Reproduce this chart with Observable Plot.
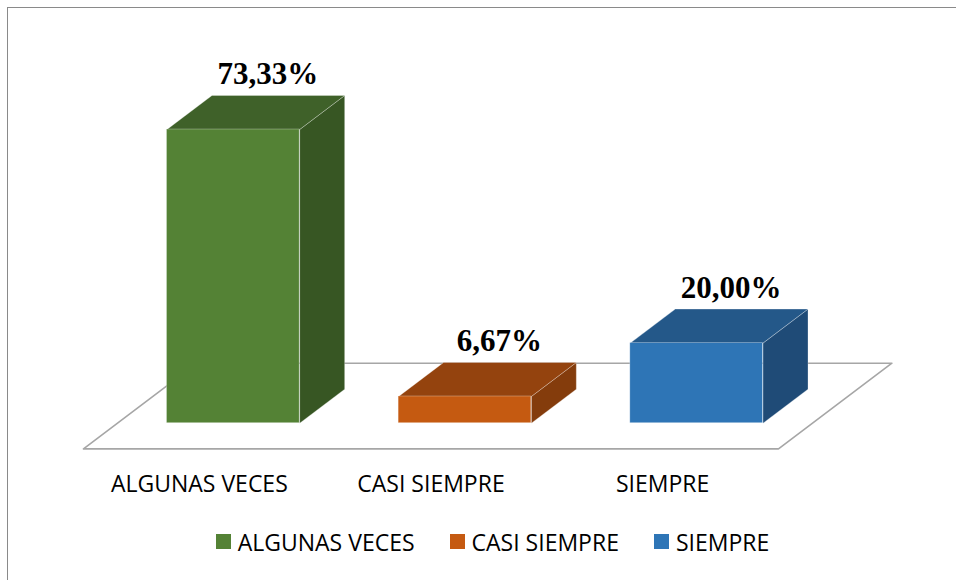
<!DOCTYPE html>
<html>
<head>
<meta charset="utf-8">
<script src="https://cdn.jsdelivr.net/npm/d3@7"></script>
<script src="https://cdn.jsdelivr.net/npm/@observablehq/plot@0.6"></script>
<style>
  html, body { margin: 0; padding: 0; background: #fff; overflow: hidden; }
  #wrap { position: relative; width: 956px; height: 580px; }
  #frame { position: absolute; left: 7px; top: 7px; width: 980px; height: 600px;
           border: 1.4px solid #8a8a8a; box-sizing: border-box; pointer-events: none; }
  #legend { margin-top: -2px; }
  #legend .lg-swatches-wrap { display: flex; align-items: center; justify-content: center; padding-left: 29px; box-sizing: border-box; width: 956px; margin: 0; }
  #legend .lg-swatch { display: inline-flex; align-items: center; margin-right: 35px; }
  #legend .lg-swatch:last-child { margin-right: 0; }
  #legend .lg-swatch > svg { margin-right: 7px; }
</style>
</head>
<body>
<div id="wrap">
  <div id="chart"></div>
  <div id="legend"></div>
  <div id="frame"></div>
</div>
<script>
// ---- data ----
const categories = ["ALGUNAS VECES", "CASI SIEMPRE", "SIEMPRE"];
const values = [73.33, 6.67, 20.00];
const frontColors = ["#548235", "#C55A11", "#2E75B6"];
const topColors = ["#3F6129", "#94430E", "#245889"];
const sideColors = ["#375623", "#843C0C", "#1F4B77"];

// ---- 3D geometry (in data units) ----
const hw = 0.2864;   // half bar width, category units
const dX = 0.1942;   // depth shift along x per bar depth
const dY = 8.49;     // depth shift along y per bar depth
const fFront = -0.756, fBack = 1.765; // floor extent in bar depths

const fmt = v => v.toFixed(2).replace(".", ",") + "%";

const bars = categories.map((c, i) => ({
  i, c, v: values[i], label: fmt(values[i]),
  front: frontColors[i], top: topColors[i], side: sideColors[i]
}));

const facePts = [];
bars.forEach(b => {
  const x0 = b.i - hw, x1 = b.i + hw, v = b.v;
  const side = [[x1, 0], [x1 + dX, dY], [x1 + dX, v + dY], [x1, v], [x1, 0]];
  const top = [[x0, v], [x1, v], [x1 + dX, v + dY], [x0 + dX, v + dY], [x0, v]];
  side.forEach(([x, y]) => facePts.push({id: b.c + "-side", fill: b.side, x, y}));
  top.forEach(([x, y]) => facePts.push({id: b.c + "-top", fill: b.top, x, y}));
});

const xmin = -0.5, xmax = categories.length - 0.5;
const floorPts = [
  [xmin + fFront * dX, fFront * dY],
  [xmax + fFront * dX, fFront * dY],
  [xmax + fBack * dX, fBack * dY],
  [xmin + fBack * dX, fBack * dY],
  [xmin + fFront * dX, fFront * dY]
].map(([x, y]) => ({x, y}));

const plot = Plot.plot({
  width: 956,
  height: 527,
  marginLeft: 117,
  marginRight: 144,
  marginTop: 22.2,
  marginBottom: 104.3,
  x: {type: "linear", domain: [xmin, xmax], axis: null},
  y: {domain: [0, 100], axis: null},
  color: {type: "identity"},
  style: {background: "transparent", overflow: "visible"},
  marks: [
    Plot.line(floorPts, {x: "x", y: "y", fill: "white", stroke: "#a6a6a6", strokeWidth: 1.6}),
    Plot.line(facePts, {x: "x", y: "y", z: "id", fill: "fill", stroke: "#ffffff", strokeOpacity: 0.35, strokeWidth: 0.8}),
    Plot.rect(bars, {x1: d => d.i - hw, x2: d => d.i + hw, y1: 0, y2: "v", fill: "front", stroke: "#ffffff", strokeOpacity: 0.35, strokeWidth: 0.8}),
    Plot.text(bars, {x: d => d.i + dX / 2, y: d => d.v + dY, text: "label", dx: 12, dy: -21,
      fontFamily: "Liberation Serif, Times New Roman, serif", fontWeight: "bold", fontSize: 31, fill: "#000"}),
    Plot.text(bars, {x: d => d.i + fFront * dX, y: 0, text: "c", dy: 61,
      fontFamily: "Open Sans", fontSize: 23, fill: "#000"})
  ]
});
document.getElementById("chart").appendChild(plot);

const legend = Plot.legend({
  className: "lg",
  color: {type: "ordinal", domain: categories, range: frontColors},
  legend: "swatches",
  swatchSize: 15,
  style: {fontFamily: "Open Sans", fontSize: "23px", color: "#000"}
});
document.getElementById("legend").appendChild(legend);
</script>
</body>
</html>
